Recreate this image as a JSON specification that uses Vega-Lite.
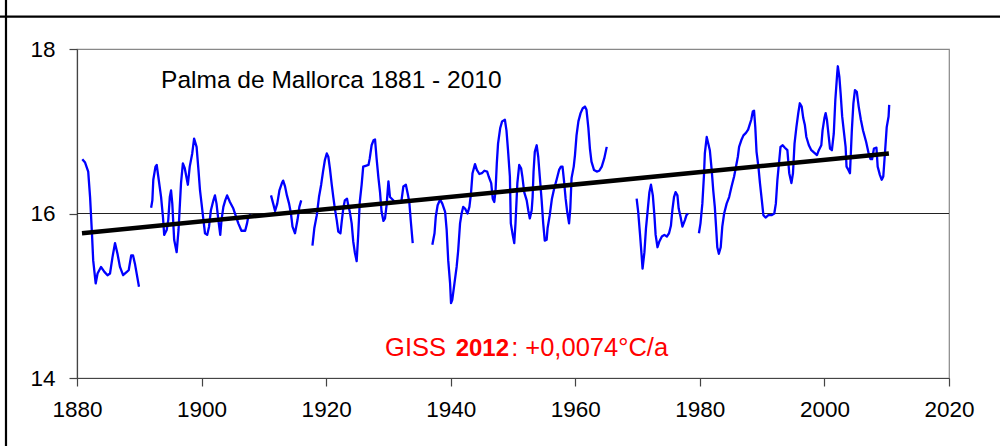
{
  "$schema": "https://vega.github.io/schema/vega-lite/v6.json",
  "width": 872,
  "height": 329,
  "autosize": "none",
  "padding": {"left": 77, "top": 49, "right": 51, "bottom": 68},
  "background": "white",
  "config": {
    "font": "Liberation Sans",
    "view": {"stroke": "#888888", "strokeWidth": 1.2},
    "axis": {
      "labelFont": "Liberation Sans",
      "labelFontSize": 22.5,
      "labelColor": "#000000",
      "domainColor": "#444444",
      "domainWidth": 1.2,
      "tickColor": "#444444",
      "tickWidth": 1.2,
      "tickSize": 8,
      "grid": false,
      "title": null
    }
  },
  "datasets": {
    "temps": [
      {"t":1880.85,"v":16.66,"s":1},{"t":1881.3,"v":16.62,"s":1},{"t":1881.8,"v":16.51,"s":1},{"t":1882.1,"v":16.2,"s":1},{"t":1882.4,"v":15.76,"s":1},{"t":1882.6,"v":15.43,"s":1},{"t":1883.0,"v":15.15,"s":1},{"t":1883.3,"v":15.27,"s":1},{"t":1883.85,"v":15.35,"s":1},{"t":1884.4,"v":15.29,"s":1},{"t":1884.9,"v":15.25,"s":1},{"t":1885.3,"v":15.27,"s":1},{"t":1885.7,"v":15.47,"s":1},{"t":1886.1,"v":15.64,"s":1},{"t":1886.5,"v":15.51,"s":1},{"t":1886.9,"v":15.35,"s":1},{"t":1887.4,"v":15.25,"s":1},{"t":1888.0,"v":15.29,"s":1},{"t":1888.3,"v":15.31,"s":1},{"t":1888.7,"v":15.49,"s":1},{"t":1889.0,"v":15.49,"s":1},{"t":1889.3,"v":15.39,"s":1},{"t":1889.95,"v":15.11,"s":1},
      {"t":1891.9,"v":16.07,"s":2},{"t":1892.1,"v":16.16,"s":2},{"t":1892.25,"v":16.41,"s":2},{"t":1892.6,"v":16.57,"s":2},{"t":1892.8,"v":16.59,"s":2},{"t":1893.05,"v":16.45,"s":2},{"t":1893.5,"v":16.2,"s":2},{"t":1893.8,"v":15.96,"s":2},{"t":1894.0,"v":15.74,"s":2},{"t":1894.4,"v":15.8,"s":2},{"t":1894.65,"v":15.92,"s":2},{"t":1894.9,"v":16.2,"s":2},{"t":1895.1,"v":16.28,"s":2},{"t":1895.3,"v":16.12,"s":2},{"t":1895.6,"v":15.68,"s":2},{"t":1896.0,"v":15.53,"s":2},{"t":1896.3,"v":15.8,"s":2},{"t":1896.7,"v":16.37,"s":2},{"t":1897.0,"v":16.61,"s":2},{"t":1897.3,"v":16.55,"s":2},{"t":1897.8,"v":16.35,"s":2},{"t":1898.1,"v":16.57,"s":2},{"t":1898.5,"v":16.73,"s":2},{"t":1898.8,"v":16.91,"s":2},{"t":1899.2,"v":16.81,"s":2},{"t":1899.5,"v":16.53,"s":2},{"t":1899.75,"v":16.28,"s":2},{"t":1900.0,"v":16.12,"s":2},{"t":1900.3,"v":15.92,"s":2},{"t":1900.55,"v":15.76,"s":2},{"t":1900.9,"v":15.74,"s":2},{"t":1901.2,"v":15.84,"s":2},{"t":1901.5,"v":16.04,"s":2},{"t":1901.9,"v":16.16,"s":2},{"t":1902.15,"v":16.22,"s":2},{"t":1902.4,"v":16.12,"s":2},{"t":1902.7,"v":15.92,"s":2},{"t":1903.0,"v":15.74,"s":2},{"t":1903.2,"v":15.92,"s":2},{"t":1903.5,"v":16.08,"s":2},{"t":1903.8,"v":16.16,"s":2},{"t":1904.1,"v":16.22,"s":2},{"t":1904.55,"v":16.14,"s":2},{"t":1905.1,"v":16.06,"s":2},{"t":1905.45,"v":15.98,"s":2},{"t":1905.9,"v":15.88,"s":2},{"t":1906.4,"v":15.79,"s":2},{"t":1907.0,"v":15.79,"s":2},{"t":1907.3,"v":15.88,"s":2},{"t":1907.5,"v":15.96,"s":2},{"t":1907.9,"v":15.99,"s":2},
      {"t":1911.15,"v":16.22,"s":3},{"t":1911.5,"v":16.12,"s":3},{"t":1911.8,"v":16.03,"s":3},{"t":1912.15,"v":16.12,"s":3},{"t":1912.5,"v":16.28,"s":3},{"t":1912.9,"v":16.37,"s":3},{"t":1913.1,"v":16.4,"s":3},{"t":1913.4,"v":16.33,"s":3},{"t":1913.7,"v":16.22,"s":3},{"t":1914.05,"v":16.12,"s":3},{"t":1914.35,"v":16.0,"s":3},{"t":1914.6,"v":15.84,"s":3},{"t":1915.0,"v":15.76,"s":3},{"t":1915.4,"v":15.92,"s":3},{"t":1915.7,"v":16.08,"s":3},{"t":1916.0,"v":16.16,"s":3},
      {"t":1917.8,"v":15.61,"s":4},{"t":1918.1,"v":15.82,"s":4},{"t":1918.5,"v":15.98,"s":4},{"t":1918.85,"v":16.2,"s":4},{"t":1919.2,"v":16.35,"s":4},{"t":1919.5,"v":16.51,"s":4},{"t":1919.8,"v":16.65,"s":4},{"t":1920.1,"v":16.73,"s":4},{"t":1920.35,"v":16.69,"s":4},{"t":1920.6,"v":16.55,"s":4},{"t":1920.9,"v":16.35,"s":4},{"t":1921.15,"v":16.2,"s":4},{"t":1921.4,"v":16.06,"s":4},{"t":1921.7,"v":15.92,"s":4},{"t":1921.95,"v":15.78,"s":4},{"t":1922.3,"v":15.76,"s":4},{"t":1922.5,"v":15.9,"s":4},{"t":1922.75,"v":16.06,"s":4},{"t":1923.0,"v":16.16,"s":4},{"t":1923.35,"v":16.18,"s":4},{"t":1923.55,"v":16.1,"s":4},{"t":1923.8,"v":16.02,"s":4},{"t":1924.1,"v":15.88,"s":4},{"t":1924.35,"v":15.66,"s":4},{"t":1924.6,"v":15.53,"s":4},{"t":1924.9,"v":15.42,"s":4},{"t":1925.15,"v":15.74,"s":4},{"t":1925.4,"v":16.14,"s":4},{"t":1925.7,"v":16.35,"s":4},{"t":1925.95,"v":16.57,"s":4},{"t":1926.35,"v":16.58,"s":4},{"t":1926.8,"v":16.59,"s":4},{"t":1927.0,"v":16.67,"s":4},{"t":1927.3,"v":16.83,"s":4},{"t":1927.6,"v":16.89,"s":4},{"t":1927.85,"v":16.9,"s":4},{"t":1928.1,"v":16.67,"s":4},{"t":1928.4,"v":16.43,"s":4},{"t":1928.65,"v":16.26,"s":4},{"t":1928.9,"v":16.02,"s":4},{"t":1929.2,"v":15.91,"s":4},{"t":1929.45,"v":15.94,"s":4},{"t":1929.7,"v":16.1,"s":4},{"t":1930.0,"v":16.39,"s":4},{"t":1930.25,"v":16.2,"s":4},{"t":1931.05,"v":16.14,"s":4},{"t":1931.85,"v":16.14,"s":4},{"t":1932.1,"v":16.16,"s":4},{"t":1932.4,"v":16.33,"s":4},{"t":1932.8,"v":16.35,"s":4},{"t":1933.1,"v":16.24,"s":4},{"t":1933.35,"v":16.14,"s":4},{"t":1933.6,"v":15.9,"s":4},{"t":1933.9,"v":15.64,"s":4},
      {"t":1937.05,"v":15.62,"s":5},{"t":1937.4,"v":15.76,"s":5},{"t":1937.6,"v":15.96,"s":5},{"t":1937.9,"v":16.1,"s":5},{"t":1938.3,"v":16.17,"s":5},{"t":1938.65,"v":16.12,"s":5},{"t":1939.1,"v":16.02,"s":5},{"t":1939.35,"v":15.8,"s":5},{"t":1939.6,"v":15.43,"s":5},{"t":1939.9,"v":15.15,"s":5},{"t":1940.05,"v":14.91,"s":5},{"t":1940.25,"v":14.95,"s":5},{"t":1940.6,"v":15.15,"s":5},{"t":1940.95,"v":15.35,"s":5},{"t":1941.2,"v":15.55,"s":5},{"t":1941.5,"v":15.88,"s":5},{"t":1941.75,"v":16.0,"s":5},{"t":1942.0,"v":16.08,"s":5},{"t":1942.3,"v":16.06,"s":5},{"t":1942.7,"v":16.0,"s":5},{"t":1943.0,"v":16.08,"s":5},{"t":1943.25,"v":16.24,"s":5},{"t":1943.5,"v":16.49,"s":5},{"t":1943.9,"v":16.6,"s":5},{"t":1944.2,"v":16.53,"s":5},{"t":1944.6,"v":16.48,"s":5},{"t":1945.0,"v":16.49,"s":5},{"t":1945.4,"v":16.52,"s":5},{"t":1945.85,"v":16.51,"s":5},{"t":1946.1,"v":16.45,"s":5},{"t":1946.5,"v":16.37,"s":5},{"t":1946.75,"v":16.18,"s":5},{"t":1947.0,"v":16.14,"s":5},{"t":1947.2,"v":16.28,"s":5},{"t":1947.4,"v":16.61,"s":5},{"t":1947.6,"v":16.85,"s":5},{"t":1947.95,"v":17.04,"s":5},{"t":1948.25,"v":17.12,"s":5},{"t":1948.7,"v":17.14,"s":5},{"t":1948.95,"v":17.01,"s":5},{"t":1949.2,"v":16.77,"s":5},{"t":1949.5,"v":16.45,"s":5},{"t":1949.65,"v":15.88,"s":5},{"t":1949.95,"v":15.74,"s":5},{"t":1950.2,"v":15.64,"s":5},{"t":1950.4,"v":15.88,"s":5},{"t":1950.7,"v":16.37,"s":5},{"t":1951.0,"v":16.59,"s":5},{"t":1951.3,"v":16.55,"s":5},{"t":1951.5,"v":16.45,"s":5},{"t":1951.8,"v":16.26,"s":5},{"t":1952.2,"v":16.16,"s":5},{"t":1952.45,"v":16.04,"s":5},{"t":1952.7,"v":15.94,"s":5},{"t":1953.0,"v":16.04,"s":5},{"t":1953.15,"v":16.2,"s":5},{"t":1953.3,"v":16.51,"s":5},{"t":1953.5,"v":16.75,"s":5},{"t":1953.8,"v":16.83,"s":5},{"t":1954.05,"v":16.69,"s":5},{"t":1954.3,"v":16.45,"s":5},{"t":1954.6,"v":16.16,"s":5},{"t":1954.85,"v":15.88,"s":5},{"t":1955.1,"v":15.67,"s":5},{"t":1955.4,"v":15.68,"s":5},{"t":1955.55,"v":15.82,"s":5},{"t":1955.9,"v":15.98,"s":5},{"t":1956.25,"v":16.18,"s":5},{"t":1956.6,"v":16.3,"s":5},{"t":1957.0,"v":16.41,"s":5},{"t":1957.4,"v":16.53,"s":5},{"t":1957.7,"v":16.57,"s":5},{"t":1957.95,"v":16.57,"s":5},{"t":1958.2,"v":16.39,"s":5},{"t":1958.45,"v":16.18,"s":5},{"t":1958.7,"v":16.02,"s":5},{"t":1959.0,"v":15.88,"s":5},{"t":1959.2,"v":16.06,"s":5},{"t":1959.4,"v":16.43,"s":5},{"t":1959.75,"v":16.57,"s":5},{"t":1959.95,"v":16.71,"s":5},{"t":1960.2,"v":16.95,"s":5},{"t":1960.5,"v":17.12,"s":5},{"t":1960.85,"v":17.22,"s":5},{"t":1961.2,"v":17.28,"s":5},{"t":1961.55,"v":17.3,"s":5},{"t":1961.8,"v":17.26,"s":5},{"t":1962.1,"v":17.04,"s":5},{"t":1962.35,"v":16.79,"s":5},{"t":1962.6,"v":16.63,"s":5},{"t":1963.0,"v":16.53,"s":5},{"t":1963.45,"v":16.51,"s":5},{"t":1963.85,"v":16.52,"s":5},{"t":1964.25,"v":16.57,"s":5},{"t":1964.65,"v":16.67,"s":5},{"t":1965.05,"v":16.81,"s":5},
      {"t":1969.85,"v":16.18,"s":6},{"t":1970.1,"v":16.02,"s":6},{"t":1970.4,"v":15.74,"s":6},{"t":1970.65,"v":15.49,"s":6},{"t":1970.8,"v":15.33,"s":6},{"t":1971.1,"v":15.53,"s":6},{"t":1971.35,"v":15.82,"s":6},{"t":1971.65,"v":16.06,"s":6},{"t":1971.9,"v":16.26,"s":6},{"t":1972.15,"v":16.35,"s":6},{"t":1972.45,"v":16.22,"s":6},{"t":1972.7,"v":15.98,"s":6},{"t":1972.9,"v":15.74,"s":6},{"t":1973.2,"v":15.59,"s":6},{"t":1973.5,"v":15.66,"s":6},{"t":1973.9,"v":15.72,"s":6},{"t":1974.3,"v":15.74,"s":6},{"t":1974.7,"v":15.72,"s":6},{"t":1975.05,"v":15.76,"s":6},{"t":1975.35,"v":15.85,"s":6},{"t":1975.6,"v":16.05,"s":6},{"t":1975.85,"v":16.2,"s":6},{"t":1976.1,"v":16.26,"s":6},{"t":1976.4,"v":16.22,"s":6},{"t":1976.6,"v":16.06,"s":6},{"t":1976.9,"v":15.96,"s":6},{"t":1977.2,"v":15.84,"s":6},{"t":1977.6,"v":15.92,"s":6},{"t":1977.85,"v":15.98,"s":6},{"t":1978.1,"v":16.0,"s":6},
      {"t":1979.85,"v":15.76,"s":7},{"t":1980.1,"v":15.88,"s":7},{"t":1980.4,"v":16.12,"s":7},{"t":1980.65,"v":16.45,"s":7},{"t":1980.8,"v":16.73,"s":7},{"t":1981.1,"v":16.93,"s":7},{"t":1981.35,"v":16.85,"s":7},{"t":1981.6,"v":16.77,"s":7},{"t":1981.9,"v":16.53,"s":7},{"t":1982.15,"v":16.28,"s":7},{"t":1982.4,"v":16.08,"s":7},{"t":1982.6,"v":15.84,"s":7},{"t":1982.8,"v":15.59,"s":7},{"t":1983.05,"v":15.51,"s":7},{"t":1983.35,"v":15.59,"s":7},{"t":1983.6,"v":15.84,"s":7},{"t":1983.9,"v":16.0,"s":7},{"t":1984.3,"v":16.12,"s":7},{"t":1984.7,"v":16.2,"s":7},{"t":1985.1,"v":16.33,"s":7},{"t":1985.5,"v":16.45,"s":7},{"t":1985.8,"v":16.57,"s":7},{"t":1986.1,"v":16.69,"s":7},{"t":1986.3,"v":16.81,"s":7},{"t":1986.65,"v":16.89,"s":7},{"t":1987.0,"v":16.95,"s":7},{"t":1987.4,"v":16.98,"s":7},{"t":1987.75,"v":17.02,"s":7},{"t":1988.0,"v":17.08,"s":7},{"t":1988.25,"v":17.14,"s":7},{"t":1988.5,"v":17.24,"s":7},{"t":1988.7,"v":17.25,"s":7},{"t":1988.9,"v":17.05,"s":7},{"t":1989.1,"v":16.75,"s":7},{"t":1989.4,"v":16.57,"s":7},{"t":1989.65,"v":16.37,"s":7},{"t":1989.95,"v":16.16,"s":7},{"t":1990.2,"v":15.98,"s":7},{"t":1990.55,"v":15.95,"s":7},{"t":1991.0,"v":15.98,"s":7},{"t":1991.5,"v":15.98,"s":7},{"t":1991.95,"v":16.0,"s":7},{"t":1992.2,"v":16.12,"s":7},{"t":1992.45,"v":16.41,"s":7},{"t":1992.7,"v":16.61,"s":7},{"t":1992.95,"v":16.81,"s":7},{"t":1993.3,"v":16.83,"s":7},{"t":1993.65,"v":16.8,"s":7},{"t":1994.05,"v":16.77,"s":7},{"t":1994.35,"v":16.49,"s":7},{"t":1994.7,"v":16.37,"s":7},{"t":1994.95,"v":16.49,"s":7},{"t":1995.2,"v":16.85,"s":7},{"t":1995.5,"v":17.05,"s":7},{"t":1995.8,"v":17.22,"s":7},{"t":1996.05,"v":17.34,"s":7},{"t":1996.35,"v":17.3,"s":7},{"t":1996.6,"v":17.16,"s":7},{"t":1996.85,"v":17.08,"s":7},{"t":1997.1,"v":16.93,"s":7},{"t":1997.5,"v":16.83,"s":7},{"t":1997.9,"v":16.77,"s":7},{"t":1998.35,"v":16.74,"s":7},{"t":1998.8,"v":16.71,"s":7},{"t":1999.1,"v":16.77,"s":7},{"t":1999.5,"v":16.83,"s":7},{"t":1999.7,"v":17.01,"s":7},{"t":2000.0,"v":17.16,"s":7},{"t":2000.2,"v":17.22,"s":7},{"t":2000.4,"v":17.14,"s":7},{"t":2000.7,"v":16.93,"s":7},{"t":2000.9,"v":16.79,"s":7},{"t":2001.2,"v":16.77,"s":7},{"t":2001.5,"v":16.97,"s":7},{"t":2001.75,"v":17.38,"s":7},{"t":2002.05,"v":17.7,"s":7},{"t":2002.15,"v":17.79,"s":7},{"t":2002.4,"v":17.66,"s":7},{"t":2002.6,"v":17.46,"s":7},{"t":2002.85,"v":17.18,"s":7},{"t":2003.1,"v":17.01,"s":7},{"t":2003.4,"v":16.81,"s":7},{"t":2003.55,"v":16.57,"s":7},{"t":2003.85,"v":16.53,"s":7},{"t":2004.1,"v":16.49,"s":7},{"t":2004.4,"v":17.01,"s":7},{"t":2004.65,"v":17.34,"s":7},{"t":2004.9,"v":17.5,"s":7},{"t":2005.2,"v":17.48,"s":7},{"t":2005.5,"v":17.3,"s":7},{"t":2005.85,"v":17.14,"s":7},{"t":2006.2,"v":17.01,"s":7},{"t":2006.7,"v":16.87,"s":7},{"t":2007.1,"v":16.73,"s":7},{"t":2007.4,"v":16.66,"s":7},{"t":2007.65,"v":16.66,"s":7},{"t":2007.95,"v":16.79,"s":7},{"t":2008.35,"v":16.8,"s":7},{"t":2008.55,"v":16.57,"s":7},{"t":2008.9,"v":16.47,"s":7},{"t":2009.2,"v":16.41,"s":7},{"t":2009.45,"v":16.45,"s":7},{"t":2009.75,"v":16.77,"s":7},{"t":2010.0,"v":17.05,"s":7},{"t":2010.3,"v":17.18,"s":7},{"t":2010.4,"v":17.32,"s":7}
    ],
    "trend": [
      {"t": 1880.8, "v": 15.76},
      {"t": 2010.35, "v": 16.73}
    ]
  },
  "layer": [
    {
      "data": {"values": [{}]},
      "mark": {"type": "rule", "color": "#222222", "strokeWidth": 1},
      "encoding": {"y": {"datum": 16, "type": "quantitative", "scale": {"domain": [14, 18], "nice": false, "zero": false}}}
    },
    {
      "data": {"name": "temps"},
      "mark": {"type": "line", "color": "#0000FF", "strokeWidth": 2.3, "strokeJoin": "round"},
      "encoding": {
        "x": {
          "field": "t", "type": "quantitative",
          "scale": {"domain": [1880, 2020], "nice": false, "zero": false},
          "axis": {"values": [1880, 1900, 1920, 1940, 1960, 1980, 2000, 2020], "format": "d", "labelPadding": 12, "labelFlush": false}
        },
        "y": {
          "field": "v", "type": "quantitative",
          "scale": {"domain": [14, 18], "nice": false, "zero": false},
          "axis": {"values": [14, 16, 18], "format": "d", "labelPadding": 14}
        },
        "detail": {"field": "s", "type": "nominal"},
        "order": {"field": "t", "type": "quantitative"}
      }
    },
    {
      "data": {"name": "trend"},
      "mark": {"type": "line", "color": "#000000", "strokeWidth": 4.5},
      "encoding": {
        "x": {"field": "t", "type": "quantitative"},
        "y": {"field": "v", "type": "quantitative"}
      }
    },
    {
      "data": {"values": [{}]},
      "mark": {"type": "text", "align": "left", "baseline": "alphabetic", "fontSize": 24.5, "font": "Liberation Sans", "color": "#000000", "text": "Palma de Mallorca 1881 - 2010"},
      "encoding": {"x": {"datum": 1893.5, "type": "quantitative"}, "y": {"datum": 17.53, "type": "quantitative"}}
    },
    {
      "data": {"values": [{}]},
      "mark": {"type": "text", "align": "right", "baseline": "alphabetic", "fontSize": 25.5, "font": "Liberation Sans", "color": "#FF0000", "text": "GISS"},
      "encoding": {"x": {"datum": 1939.24, "type": "quantitative"}, "y": {"datum": 14.27, "type": "quantitative"}}
    },
    {
      "data": {"values": [{}]},
      "mark": {"type": "text", "align": "left", "baseline": "alphabetic", "fontSize": 24, "fontWeight": "bold", "font": "Liberation Sans", "color": "#FF0000", "text": "2012"},
      "encoding": {"x": {"datum": 1940.79, "type": "quantitative"}, "y": {"datum": 14.27, "type": "quantitative"}}
    },
    {
      "data": {"values": [{}]},
      "mark": {"type": "text", "align": "left", "baseline": "alphabetic", "fontSize": 25.5, "font": "Liberation Sans", "color": "#FF0000", "text": ": +0,0074°C/a"},
      "encoding": {"x": {"datum": 1949.7, "type": "quantitative"}, "y": {"datum": 14.27, "type": "quantitative"}}
    },
    {
      "data": {"values": [{}]},
      "mark": {"type": "rule", "color": "#000000", "strokeWidth": 2.2, "clip": false},
      "encoding": {"x": {"datum": 1868.6, "type": "quantitative"}, "y": {"datum": 18.7, "type": "quantitative"}, "y2": {"datum": 13.0}}
    },
    {
      "data": {"values": [{}]},
      "mark": {"type": "rule", "color": "#000000", "strokeWidth": 2.2, "clip": false},
      "encoding": {"y": {"datum": 18.393, "type": "quantitative"}, "x": {"datum": 1867.0, "type": "quantitative"}, "x2": {"datum": 2030.0}}
    }
  ]
}
